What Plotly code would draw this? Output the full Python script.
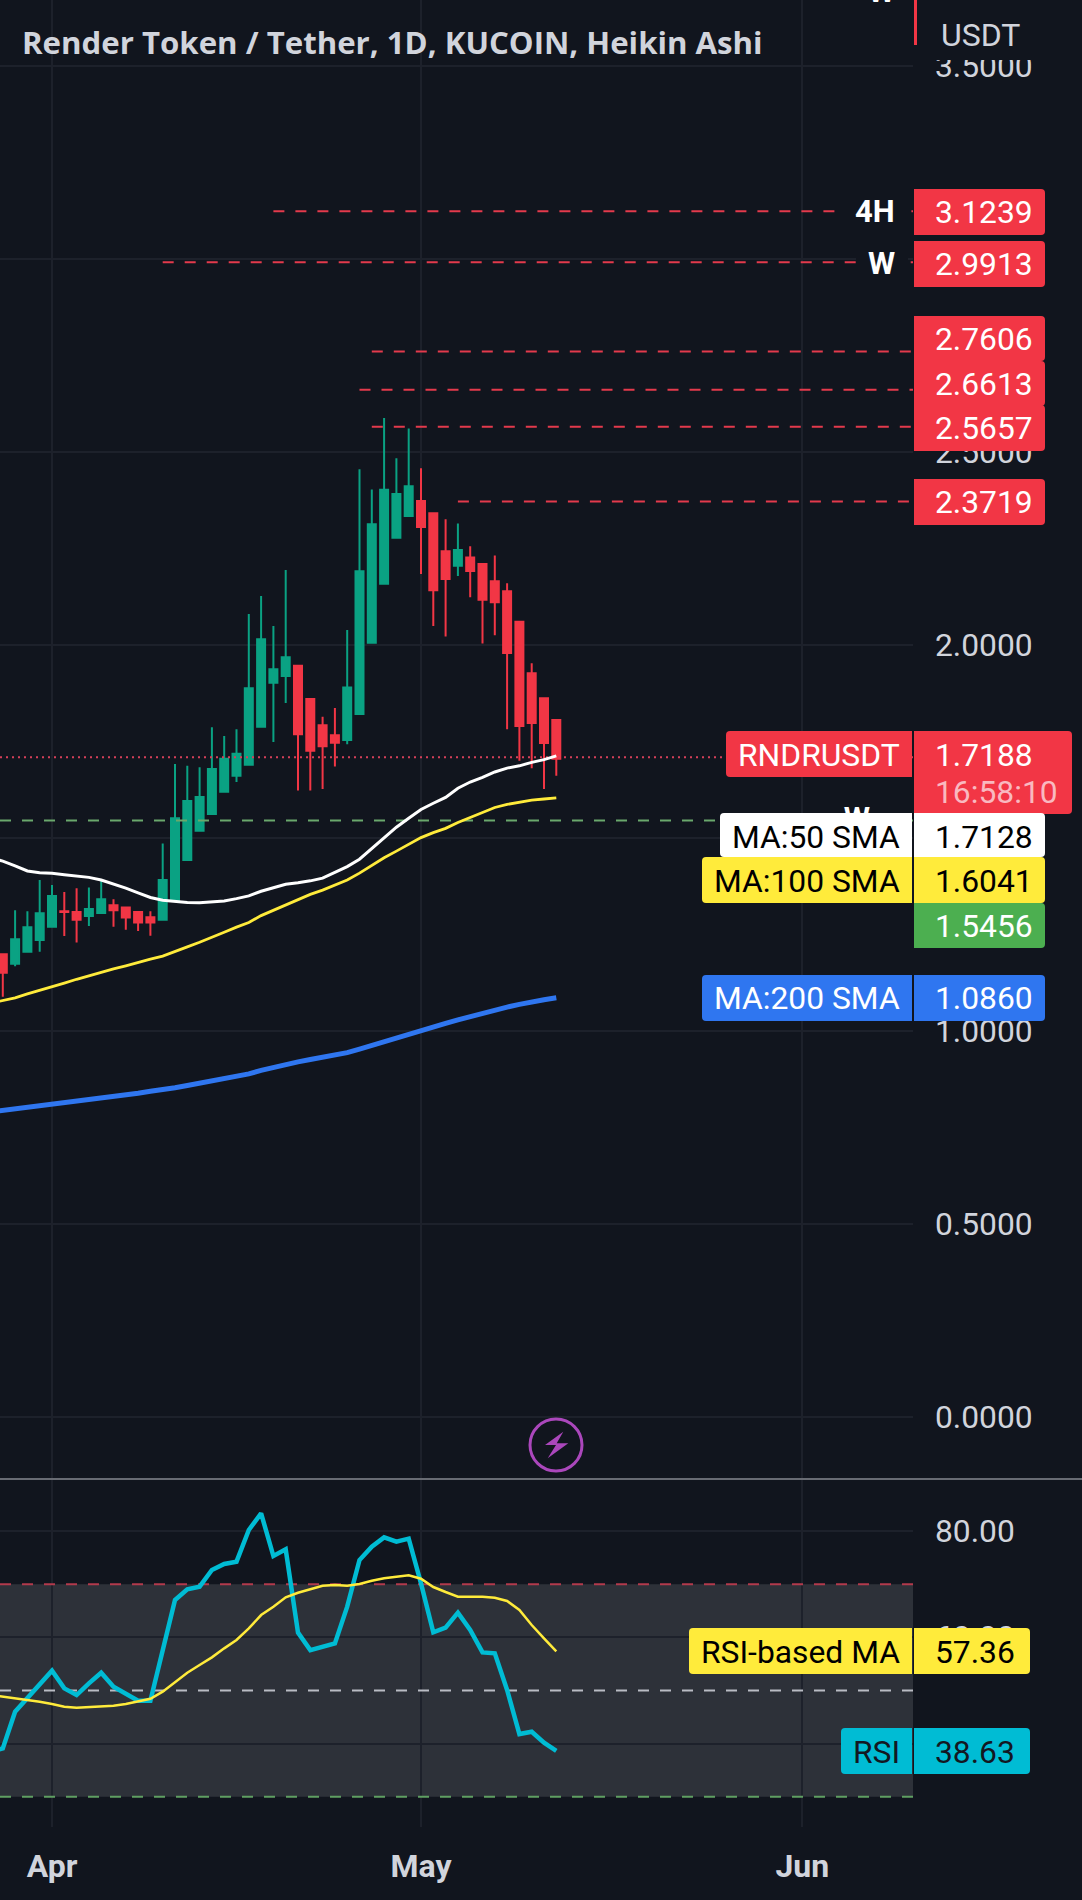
import pandas as pd
import plotly.graph_objects as go

W, H = 1082, 1900
BG = "#11151e"
GRID = "#1d212b"
TEXT = "#d1d4dc"
UP = "#0aa283"
DOWN = "#f23645"
FONT = "Roboto"

dates = [d.strftime("%Y-%m-%d") for d in pd.date_range("2023-03-27", "2023-05-12")]
candle_dates = dates[1:]

opens = [1.199,1.174,1.205,1.236,1.270,1.310,1.308,1.298,1.306,1.326,1.320,1.308,1.295,1.288,1.337,1.443,1.519,1.562,1.620,1.661,1.690,1.788,1.902,1.920,
         1.946,1.860,1.792,1.766,1.754,1.821,2.006,2.159,2.278,2.334,2.373,2.341,2.243,2.205,2.227,2.210,2.165,2.139,2.060,1.927,1.862,1.806]
closes = [1.151,1.238,1.269,1.305,1.350,1.308,1.288,1.316,1.341,1.313,1.294,1.281,1.281,1.391,1.551,1.596,1.606,1.679,1.705,1.718,1.888,2.015,1.937,1.968,
          1.769,1.726,1.738,1.747,1.890,2.191,2.313,2.402,2.391,2.411,2.306,2.142,2.171,2.246,2.192,2.117,2.111,1.979,1.790,1.798,1.746,1.705]
highs = [1.199,1.313,1.310,1.391,1.378,1.360,1.370,1.372,1.391,1.341,1.320,1.308,1.310,1.486,1.692,1.687,1.683,1.787,1.764,1.782,2.080,2.127,2.049,2.194,
         1.946,1.860,1.814,1.837,2.039,2.455,2.403,2.588,2.484,2.561,2.458,2.341,2.326,2.315,2.256,2.210,2.232,2.160,2.060,1.953,1.862,1.806]
lows = [1.089,1.168,1.205,1.205,1.270,1.246,1.229,1.272,1.306,1.270,1.262,1.259,1.247,1.288,1.337,1.443,1.519,1.562,1.620,1.645,1.690,1.788,1.749,1.850,
        1.623,1.623,1.627,1.685,1.743,1.821,2.006,2.159,2.278,2.334,2.184,2.049,2.022,2.179,2.124,2.004,2.025,1.782,1.700,1.681,1.627,1.661]

ma50 = [1.449,1.440,1.428,1.4145,1.410,1.4085,1.405,1.402,1.398,1.391,1.381,1.370,1.358,1.346,1.339,1.336,1.333,1.332,1.334,1.337,1.343,1.350,1.362,1.370,1.380,
        1.384,1.389,1.396,1.410,1.426,1.445,1.473,1.502,1.528,1.551,1.574,1.590,1.605,1.629,1.645,1.657,1.671,1.681,1.687,1.696,1.703,1.7128]
ma100 = [1.072,1.079,1.086,1.096,1.105,1.115,1.124,1.134,1.143,1.153,1.161,1.169,1.178,1.186,1.194,1.205,1.218,1.230,1.242,1.256,1.269,1.281,1.299,1.313,1.328,
         1.341,1.354,1.365,1.378,1.391,1.409,1.430,1.449,1.466,1.484,1.501,1.514,1.525,1.540,1.553,1.565,1.579,1.587,1.593,1.598,1.601,1.6041]
ma200 = [0.790,0.794,0.798,0.801,0.804,0.808,0.813,0.816,0.820,0.826,0.830,0.835,0.839,0.844,0.847,0.853,0.859,0.865,0.870,0.876,0.882,0.889,0.898,0.906,0.912,
         0.920,0.926,0.931,0.937,0.944,0.953,0.963,0.972,0.982,0.991,1.002,1.010,1.020,1.029,1.038,1.047,1.055,1.062,1.069,1.076,1.081,1.0860]

rsi = [38.50,39.10,46.00,48.51,51.33,53.71,50.39,49.13,51.33,53.34,50.70,49.26,48.07,48.07,57.54,67.01,69.02,69.52,72.66,73.79,74.23,80.19,83.32,75.29,76.55,
       60.87,57.60,58.23,58.86,65.76,74.54,77.05,78.81,77.99,78.56,70.15,60.93,61.81,64.63,61.37,57.16,56.98,50.08,41.79,42.23,40.16,38.63]
rsi_ma = [49.13,48.82,48.51,48.32,47.88,47.44,46.94,46.75,46.88,47.00,47.13,47.44,48.01,48.44,49.76,51.64,53.34,54.78,56.22,57.92,59.49,61.68,64.19,65.76,67.52,
          68.39,69.02,69.71,69.84,69.71,70.03,70.65,71.09,71.41,71.66,71.03,69.46,68.52,67.64,67.64,67.64,67.45,66.83,65.13,62.31,59.80,57.36]

level_values = [3.1239, 2.9913, 2.7606, 2.6613, 2.5657, 2.3719]
level_starts = ["2023-04-19", "2023-04-10", "2023-04-27", "2023-04-26", "2023-04-27", "2023-05-04"]
green_level = 1.5456
last_price_line = 1.709
rsi_levels = [70, 50, 30]
rsi_level_colors = ["#b23a4c", "#b9bcc4", "#5f9f62"]

price_ticks = [0, 0.5, 1, 1.5, 2, 2.5, 3, 3.5]
rsi_ticks = [40, 60, 80]
month_ticks = ["2023-04-01", "2023-05-01", "2023-06-01"]
month_labels = ["Apr", "May", "Jun"]

X_LEFT = "2023-03-27 18:32"
X_RIGHT = "2023-06-10"

px = lambda v: v / W
py = lambda v: 1 - v / H

fig = go.Figure()

# level lines
for val, start in zip(level_values, level_starts):
    fig.add_trace(go.Scatter(x=[start, X_RIGHT], y=[val, val], mode="lines", xaxis="x", yaxis="y",
                             line=dict(color="#e33a4c", width=2, dash="11px,11px"), hoverinfo="skip"))
fig.add_trace(go.Scatter(x=[X_LEFT, X_RIGHT], y=[green_level, green_level], mode="lines",
                         line=dict(color="#6aa86c", width=2, dash="11px,11px"), hoverinfo="skip"))
fig.add_trace(go.Scatter(x=[X_LEFT, X_RIGHT], y=[last_price_line, last_price_line], mode="lines",
                         line=dict(color="#d5405a", width=2, dash="2px,4px"), hoverinfo="skip"))

fig.add_trace(go.Candlestick(x=candle_dates, open=opens, high=highs, low=lows, close=closes, xaxis="x", yaxis="y",
                             whiskerwidth=0,
                             increasing=dict(line=dict(color=UP, width=2), fillcolor=UP),
                             decreasing=dict(line=dict(color=DOWN, width=2), fillcolor=DOWN)))

for series, color, width in [(ma200, "#2f76f0", 5), (ma100, "#ffeb3b", 2.8), (ma50, "#ffffff", 3)]:
    fig.add_trace(go.Scatter(x=dates, y=series, mode="lines", xaxis="x", yaxis="y",
                             line=dict(color=color, width=width), hoverinfo="skip"))

# hidden-behind-label marker for the green level
fig.add_trace(go.Scatter(x=["2023-06-06 12:00"], y=[green_level], mode="text", text=["<b>W</b>"], xaxis="x", yaxis="y",
                         textposition="middle left", cliponaxis=False,
                         textfont=dict(family=FONT, size=30, color="#ffffff"), hoverinfo="skip"))

# RSI pane
for lvl, color in zip(rsi_levels, rsi_level_colors):
    fig.add_trace(go.Scatter(x=[X_LEFT, X_RIGHT], y=[lvl, lvl], mode="lines", xaxis="x2", yaxis="y2",
                             line=dict(color=color, width=2, dash="11px,11px"), hoverinfo="skip"))
fig.add_trace(go.Scatter(x=dates, y=rsi, mode="lines", xaxis="x2", yaxis="y2",
                         line=dict(color="#00bcd4", width=4.5), hoverinfo="skip"))
fig.add_trace(go.Scatter(x=dates, y=rsi_ma, mode="lines", xaxis="x2", yaxis="y2",
                         line=dict(color="#ffeb3b", width=2.5), hoverinfo="skip"))

shapes = []
annotations = []


def rrect(x0, y0, x1, y1, color, tl=4, tr=4, br=4, bl=4):
    X = lambda v: px(v)
    Y = lambda v: py(v)
    path = (f"M {X(x0+tl)} {Y(y0)} L {X(x1-tr)} {Y(y0)} Q {X(x1)} {Y(y0)} {X(x1)} {Y(y0+tr)} "
            f"L {X(x1)} {Y(y1-br)} Q {X(x1)} {Y(y1)} {X(x1-br)} {Y(y1)} "
            f"L {X(x0+bl)} {Y(y1)} Q {X(x0)} {Y(y1)} {X(x0)} {Y(y1-bl)} "
            f"L {X(x0)} {Y(y0+tl)} Q {X(x0)} {Y(y0)} {X(x0+tl)} {Y(y0)} Z")
    shapes.append(dict(type="path", path=path, xref="paper", yref="paper", fillcolor=color,
                       line=dict(width=0), layer="above"))


def text(x, y, s, color, size=31.8, anchor="left", weight=None, family=FONT):
    annotations.append(dict(x=px(x), y=py(y), xref="paper", yref="paper", text=s, showarrow=False,
                            xanchor=anchor, yanchor="middle", borderpad=0, align=anchor,
                            font=dict(family=family, size=size, color=color, weight=weight)))


VAL_X = 934
LBL_X = 901

# RSI band
shapes.append(dict(type="rect", xref="x2 domain", yref="y2", x0=0, x1=1, y0=30, y1=70,
                   fillcolor="rgba(255,255,255,0.12)", line=dict(width=0), layer="below"))

# cover of the clipped top tick + top marks
shapes.append(dict(type="rect", xref="paper", yref="paper", x0=px(914), x1=1, y0=py(60), y1=1,
                   fillcolor=BG, line=dict(width=0), layer="above"))
shapes.append(dict(type="rect", xref="paper", yref="paper", x0=px(914), x1=px(917), y0=py(45), y1=1,
                   fillcolor=DOWN, line=dict(width=0), layer="above"))

# gaps behind the level captions
shapes.append(dict(type="rect", xref="paper", yref="paper", x0=px(836), x1=px(908), y0=py(220), y1=py(204),
                   fillcolor=BG, line=dict(width=0), layer="above"))
shapes.append(dict(type="rect", xref="paper", yref="paper", x0=px(856), x1=px(908), y0=py(272), y1=py(256),
                   fillcolor=BG, line=dict(width=0), layer="above"))

# divider
shapes.append(dict(type="line", xref="paper", yref="paper", x0=0, x1=1, y0=py(1479), y1=py(1479),
                   line=dict(color="#686b73", width=2), layer="above"))

# bolt icon
shapes.append(dict(type="circle", xref="paper", yref="paper", x0=px(530), x1=px(582), y0=py(1471), y1=py(1419),
                   line=dict(color="#ab47bc", width=3), layer="above"))
bolt = [(563.3, 1431.7), (545, 1445), (556, 1445), (547.7, 1458.3), (568.3, 1443.3), (556.7, 1443.3)]
shapes.append(dict(type="path", xref="paper", yref="paper", fillcolor="#ab47bc", line=dict(width=0), layer="above",
                   path="M " + " L ".join(f"{px(a)} {py(b)}" for a, b in bolt) + " Z"))

# right-hand value boxes for levels
for label, y0, y1, yc in [("3.1239", 189, 235, 212), ("2.9913", 241, 287, 264), ("2.7606", 316, 361, 339),
                          ("2.6613", 361, 406, 384), ("2.5657", 405, 451, 428), ("2.3719", 479, 525, 502)]:
    rrect(914, y0, 1045, y1, DOWN, tl=0, bl=0)
    text(VAL_X, yc, label, "#ffffff")

text(896, 212, "4H", "#ffffff", size=31, anchor="right", weight="bold")
text(896, 264, "W", "#ffffff", size=31, anchor="right", weight="bold")
text(896, -9, "W", "#ffffff", size=31, anchor="right", weight="bold")

# price tags
rrect(726, 731, 912, 777, DOWN, tr=0, br=0)
rrect(914, 731, 1072, 814, DOWN, tl=0, bl=0)
text(LBL_X, 755, "RNDRUSDT", "#ffffff", anchor="right")
text(VAL_X, 755, "1.7188", "#ffffff")
text(VAL_X, 792, "16:58:10", "#f9b9c0")

rrect(720, 813, 912, 857, "#ffffff", tr=0, br=0)
rrect(914, 813, 1045, 857, "#ffffff", tl=0, bl=0)
text(LBL_X, 837, "MA:50 SMA", "#000000", anchor="right")
text(VAL_X, 837, "1.7128", "#000000")

rrect(702, 857, 912, 903, "#ffeb3b", tr=0, br=0)
rrect(914, 857, 1045, 903, "#ffeb3b", tl=0, bl=0)
text(LBL_X, 881, "MA:100 SMA", "#000000", anchor="right")
text(VAL_X, 881, "1.6041", "#000000")

rrect(914, 903, 1045, 948, "#4caf50", tl=0, bl=0)
text(VAL_X, 926, "1.5456", "#ffffff")

rrect(702, 975, 912, 1021, "#2f76f0", tr=0, br=0)
rrect(914, 975, 1045, 1021, "#2f76f0", tl=0, bl=0)
text(LBL_X, 998, "MA:200 SMA", "#ffffff", anchor="right")
text(VAL_X, 998, "1.0860", "#ffffff")

rrect(689, 1628, 912, 1674, "#ffeb3b", tr=0, br=0)
rrect(914, 1628, 1030, 1674, "#ffeb3b", tl=0, bl=0)
text(LBL_X, 1652, "RSI-based MA", "#000000", anchor="right")
text(VAL_X, 1652, "57.36", "#000000")

rrect(841, 1728, 912, 1774, "#00bcd4", tr=0, br=0)
rrect(914, 1728, 1030, 1774, "#00bcd4", tl=0, bl=0)
text(LBL_X, 1752, "RSI", "#131722", anchor="right")
text(VAL_X, 1752, "38.63", "#131722")

text(980, 35, "USDT", TEXT, size=32, anchor="center")
text(21, 42, "Render Token / Tether, 1D, KUCOIN, Heikin Ashi", TEXT, size=31.2, weight="bold", family="Open Sans")

xcommon = dict(type="date", range=[X_LEFT, X_RIGHT], domain=[0, 913 / W], tickmode="array", tickvals=month_ticks,
               showgrid=True, gridcolor=GRID, gridwidth=1.5, zeroline=False, showline=False, ticks="",
               rangeslider=dict(visible=False), automargin=False)

fig.update_layout(
    width=W, height=H, autosize=False, margin=dict(l=0, r=0, t=0, b=0), showlegend=False,
    paper_bgcolor=BG, plot_bgcolor=BG, boxgap=0.35, boxgroupgap=0, hovermode=False,
    font=dict(family=FONT, color=TEXT),
    shapes=shapes, annotations=annotations,
    xaxis=dict(anchor="y", showticklabels=False, **xcommon),
    xaxis2=dict(anchor="y2", showticklabels=True, ticktext=month_labels, ticklabelstandoff=17,
                tickfont=dict(family=FONT, size=32, color=TEXT, weight="bold"), **xcommon),
    yaxis=dict(domain=[1 - 1478 / H, 1], range=[-61 / 386, 1417 / 386], side="right", anchor="x",
               tickmode="array", tickvals=price_ticks, ticktext=[f"{v:.4f}" for v in price_ticks],
               tickfont=dict(family=FONT, size=31.8, color=TEXT), ticklabelstandoff=21, ticks="",
               showgrid=True, gridcolor=GRID, gridwidth=1.5, zeroline=False, showline=False, automargin=False),
    yaxis2=dict(domain=[1 - 1827 / H, 1 - 1480 / H], range=[24.3, 89.6], side="right", anchor="x2",
                tickmode="array", tickvals=rsi_ticks, ticktext=[f"{v:.2f}" for v in rsi_ticks],
                tickfont=dict(family=FONT, size=31.8, color=TEXT), ticklabelstandoff=21, ticks="",
                showgrid=True, gridcolor=GRID, gridwidth=1.5, zeroline=False, showline=False, automargin=False),
)

fig.write_html("out.html", config=dict(displayModeBar=False),
               post_script="document.body.style.margin='0';document.documentElement.style.overflow='hidden';")
